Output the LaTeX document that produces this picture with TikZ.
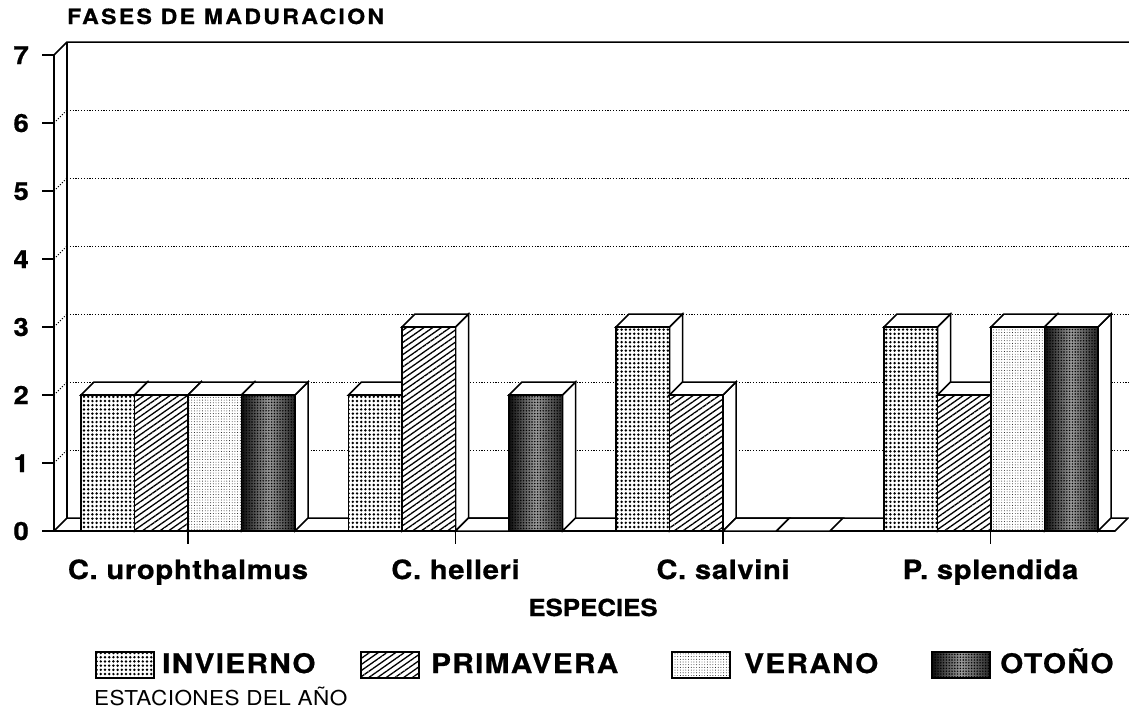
\documentclass[tikz,border=0pt]{standalone}
\usepackage{fontspec}
\setmainfont{TeX Gyre Heros}[FakeStretch=1.1, BoldFeatures={FakeBold=0.7}]
\usetikzlibrary{patterns.meta}
\newcommand{\lsp}[1]{\addfontfeature{LetterSpace=#1}}
\tikzset{
  bl/.style={line width=1.5pt, line join=miter},
  grid/.style={line width=0.9pt, dash pattern=on 1.2pt off 1.6pt},
  invierno/.style={pattern={Dots[distance=4.2pt, radius=1.35pt]}},
  primavera/.style={pattern={Lines[angle=35, distance=5pt, line width=1.3pt]}},
  verano/.style={pattern={Dots[distance=2.7pt, radius=0.45pt]}},
  otono/.style={preaction={left color=black!95, right color=black!85, middle color=black!40},
                pattern={Dots[distance=2.8pt, radius=0.8pt]}},
  ytick/.style={font=\fontsize{25}{25}\selectfont\bfseries, anchor=base east, inner sep=0pt},
  cat/.style={font=\fontsize{26.5}{26.5}\selectfont\bfseries\lsp{2.5}, anchor=base, inner sep=0pt},
  leg/.style={font=\fontsize{27}{27}\selectfont\bfseries\lsp{5}, anchor=base west, inner sep=0pt},
}
\newcommand{\mybar}[3]{%
  \pgfmathsetmacro{\xl}{#1}%
  \pgfmathsetmacro{\xr}{#1+53.5}%
  \pgfmathsetmacro{\yt}{531-68*#2}%
  \ifdim #2pt=0pt
    \draw[bl, fill=white] (\xl,531) -- (\xl+13,518) -- (\xr+13,518) -- (\xr,531) -- cycle;
  \else
    \draw[bl, fill=white] (\xr,531) -- (\xr+13,518) -- (\xr+13,\yt-13) -- (\xr,\yt) -- cycle;
    \draw[bl, fill=white] (\xl,\yt) -- (\xl+13,\yt-13) -- (\xr+13,\yt-13) -- (\xr,\yt) -- cycle;
    \fill[white] (\xl,531) rectangle (\xr,\yt);
    \path[#3] (\xl,531) rectangle (\xr,\yt);
    \draw[bl] (\xl,531) rectangle (\xr,\yt);
  \fi}
\begin{document}
\begin{tikzpicture}[x=1pt, y=-1pt]
\useasboundingbox[fill=white] (0,0) rectangle (1129,716);
% title
\node[font=\fontsize{21}{21}\selectfont\bfseries\lsp{11}, anchor=base west, inner sep=0pt] (title) at (67,24) {FASES DE MADURACION};
% back wall grid
\foreach \v in {1,...,6} {
  \pgfmathsetmacro{\yy}{531-68*\v}
  \draw[grid] (67,\yy-13) -- (1129,\yy-13);
  \draw[grid] (54,\yy) -- (67,\yy-13);
}
\draw[line width=1.5pt] (54,55) -- (67,42) -- (1129,42);
% left wall
\draw[line width=2pt] (54,55) -- (54,531);
\draw[line width=1.6pt] (67,42) -- (67,518);
% floor
\draw[bl, fill=white] (54,531) -- (1115,531) -- (1128,518) -- (67,518) -- cycle;
\draw[line width=2pt] (42,531) -- (1115,531);
% y ticks and labels
\foreach \v in {0,...,7} {
  \pgfmathsetmacro{\yy}{531-68*\v}
  \draw[line width=1.6pt] (42,\yy) -- (54,\yy);
  \node[ytick] (y\v) at (29,\yy+9) {\v};
}
% category ticks
\foreach \c in {188,455.5,723,990.5} \draw[line width=1.4pt] (\c,531) -- (\c,544);
% bars
\mybar{81}{2}{invierno}
\mybar{134.5}{2}{primavera}
\mybar{188}{2}{verano}
\mybar{241.5}{2}{otono}
\mybar{348.5}{2}{invierno}
\mybar{402}{3}{primavera}
\mybar{455.5}{0}{verano}
\mybar{509}{2}{otono}
\mybar{616}{3}{invierno}
\mybar{669.5}{2}{primavera}
\mybar{723}{0}{verano}
\mybar{776.5}{0}{otono}
\mybar{884}{3}{invierno}
\mybar{937.5}{2}{primavera}
\mybar{991}{3}{verano}
\mybar{1044.5}{3}{otono}
% category labels
\node[cat] (c1) at (188,579) {C. urophthalmus};
\node[cat] (c2) at (455.5,579) {C. helleri};
\node[cat] (c3) at (723,579) {C. salvini};
\node[cat] (c4) at (990.5,579) {P. splendida};
\node[font=\fontsize{23.5}{23.5}\selectfont\bfseries, anchor=base, inner sep=0pt] (esp) at (593,616) {ESPECIES};
% legend
\foreach \bx/\st in {96/invierno, 361/primavera, 672/verano, 932/otono} {
  \fill[white] (\bx,652) rectangle (\bx+58,678);
  \path[\st] (\bx,652) rectangle (\bx+58,678);
  \draw[line width=1.4pt] (\bx,652) rectangle (\bx+58,678);
}
\node[leg] (l1) at (162,673) {INVIERNO};
\node[leg] (l2) at (431,673) {PRIMAVERA};
\node[leg] (l3) at (744,673) {VERANO};
\node[leg] (l4) at (1000,673) {OTOÑO};
\node[font=\fontsize{20.5}{20.5}\selectfont\lsp{2}, anchor=base west, inner sep=0pt] (est) at (94,705) {ESTACIONES DEL AÑO};
\end{tikzpicture}
\end{document}
